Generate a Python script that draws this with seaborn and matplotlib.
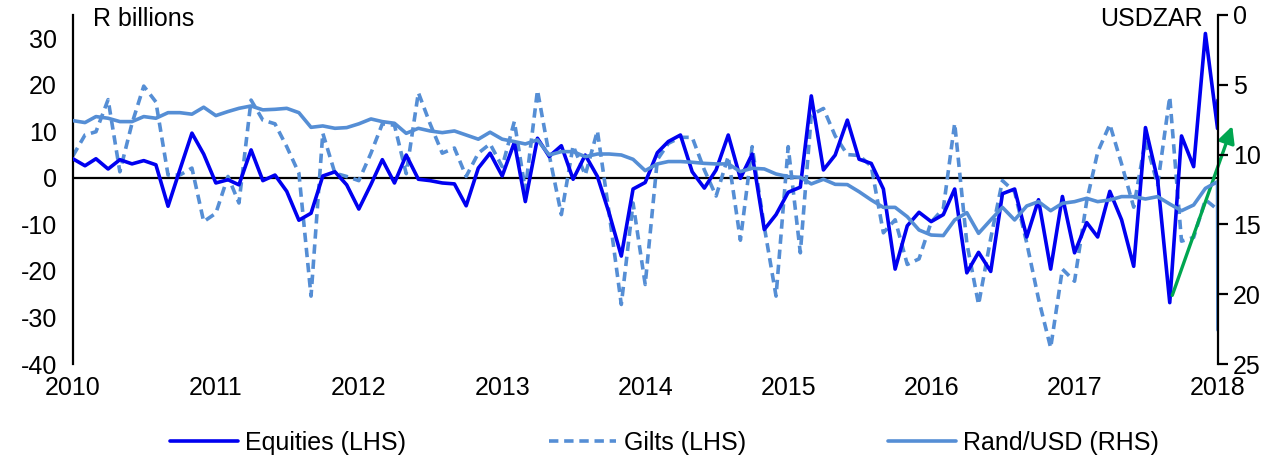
import numpy as np
import pandas as pd
import matplotlib
matplotlib.use('Agg')
import matplotlib.pyplot as plt
import matplotlib.dates as mdates
import seaborn as sns

# Monthly flows, Jan 2010 - Jan 2018 (plus one intra-month point at the end)
dates = list(pd.date_range('2010-01-01', '2018-01-01', freq='MS')) + [pd.Timestamp('2018-01-02')]

equities = [4.1, 2.6, 4.1, 1.9, 3.9, 3.0, 3.7, 2.8, -6.1, 1.7,
            9.6, 5.1, -1.1, -0.4, -1.5, 6.0, -0.6, 0.6, -2.9, -9.1,
            -7.6, 0.4, 1.3, -1.5, -6.7, -1.4, 3.9, -1.1, 4.9, -0.3,
            -0.6, -1.1, -1.3, -6.0, 2.1, 5.3, 0.4, 7.6, -5.1, 8.5,
            4.6, 6.9, -0.3, 4.9, 0.3, -7.6, -16.8, -2.4, -1.0, 5.4,
            7.8, 9.2, 1.3, -2.2, 1.7, 9.2, -0.1, 5.1, -11.1, -7.9,
            -3.1, -2.0, 17.6, 1.7, 4.9, 12.4, 4.0, 3.1, -2.4, -19.6,
            -10.3, -7.4, -9.4, -7.9, -2.4, -20.4, -16.0, -20.1, -3.4, -2.4,
            -12.7, -4.7, -19.6, -4.0, -16.1, -9.6, -12.7, -2.9, -9.0, -19.0,
            10.8, -0.4, -26.8, 9.0, 2.4, 31.0, 10.6, 16.7]

gilts = [4.7, 9.2, 9.9, 16.8, 1.3, 11.7, 19.7, 16.3, 0.6, 0.6,
         2.1, -9.4, -7.6, 0.3, -5.4, 16.7, 12.4, 11.6, 6.7, 1.0,
         -25.4, 9.6, 1.0, 0.3, -0.6, 5.3, 11.6, 11.3, 0.9, 18.3,
         11.6, 5.3, 6.4, 0.3, 5.3, 7.3, 2.4, 12.1, -2.6, 18.8,
         4.9, -7.9, 6.9, 0.6, 10.1, -7.6, -27.2, -5.4, -22.9, 3.9,
         7.4, 8.7, 8.7, 1.7, -3.9, 4.6, -13.4, 6.7, -10.5, -25.4,
         6.7, -16.1, 13.5, 14.9, 9.0, 5.0, 4.8, 2.5, -11.8, -9.0,
         -18.6, -17.4, -9.5, -6.6, 11.7, -14.0, -27.2, -13.0, -0.6, -3.0,
         -14.0, -26.0, -36.5, -19.6, -22.2, -5.0, 5.5, 11.5, 3.0, -6.3,
         8.1, -1.5, 17.4, -13.6, -12.8, -4.7, -6.8, -6.8]

rand_usd = [7.57, 7.71, 7.28, 7.40, 7.64, 7.64, 7.28, 7.40, 7.00, 7.00,
            7.11, 6.61, 7.21, 6.92, 6.69, 6.52, 6.80, 6.76, 6.69, 7.00,
            8.05, 7.95, 8.12, 8.07, 7.80, 7.45, 7.64, 7.76, 8.48, 8.12,
            8.31, 8.43, 8.31, 8.60, 8.90, 8.40, 8.90, 9.07, 9.24, 8.95,
            10.03, 9.79, 9.79, 10.15, 9.96, 9.96, 10.03, 10.34, 11.15, 10.67,
            10.50, 10.50, 10.55, 10.63, 10.67, 10.67, 11.22, 10.98, 11.03, 11.39,
            11.58, 11.63, 12.10, 11.77, 12.13, 12.15, 12.66, 13.25, 13.78, 13.78,
            14.45, 15.40, 15.76, 15.80, 14.68, 14.16, 15.64, 14.68, 13.78, 14.68,
            13.68, 13.37, 14.02, 13.49, 13.37, 13.13, 13.37, 13.25, 13.01, 13.01,
            13.18, 13.01, 13.54, 14.02, 13.61, 12.42, 11.94, 22.56]

years = list(range(2010, 2019))
labels = ['Equities (LHS)', 'Gilts (LHS)', 'Rand/USD (RHS)']

dark_blue = '#0000F0'
light_blue = '#558ED5'

sns.set_style('white')
plt.rcParams['font.family'] = ['Liberation Sans', 'DejaVu Sans']
plt.rcParams['font.size'] = 18
plt.rcParams['text.color'] = 'black'
plt.rcParams['xtick.color'] = 'black'
plt.rcParams['ytick.color'] = 'black'
plt.rcParams['axes.unicode_minus'] = False

fig, ax = plt.subplots(figsize=(12.78, 4.65), dpi=100)
fig.subplots_adjust(left=0.057, right=0.953, top=0.968, bottom=0.217)

df = pd.DataFrame({'date': dates, 'equities': equities, 'gilts': gilts, 'rand': rand_usd})

ax.axhline(0, color='black', lw=1.6, zorder=1)
sns.lineplot(data=df, x='date', y='gilts', ax=ax, color=light_blue, lw=2.6,
             linestyle=(0, (2.6, 1.6)), estimator=None, sort=False, label=labels[1], zorder=2)
sns.lineplot(data=df, x='date', y='equities', ax=ax, color=dark_blue, lw=2.6,
             estimator=None, sort=False, label=labels[0], zorder=3)

ax2 = ax.twinx()
sns.lineplot(data=df, x='date', y='rand', ax=ax2, color=light_blue, lw=2.6,
             estimator=None, sort=False, label=labels[2])

ax.set_ylim(-40, 35)
ax.set_yticks(range(-40, 31, 10))
ax2.set_ylim(25, 0)
ax2.set_yticks(range(0, 26, 5))

ax.set_xlim(pd.Timestamp('2010-01-01'), pd.Timestamp('2018-01-02'))
ax.set_xticks([pd.Timestamp(f'{y}-01-01') for y in years])
ax.xaxis.set_major_formatter(mdates.DateFormatter('%Y'))
ax.set_xlabel('')
ax.set_ylabel('')
ax2.set_ylabel('')

for a in (ax, ax2):
    for s in ('top', 'bottom', 'left', 'right'):
        a.spines[s].set_visible(False)
ax.spines['left'].set_visible(True)
ax.spines['left'].set_color('black')
ax.spines['left'].set_linewidth(1.6)
ax2.spines['right'].set_visible(True)
ax2.spines['right'].set_color('black')
ax2.spines['right'].set_linewidth(1.6)

ax.tick_params(axis='y', left=False, pad=8)
ax.tick_params(axis='x', bottom=False, pad=5)
ax2.tick_params(axis='y', right=True, direction='out', length=7, width=1.6,
                color='black', pad=4)

# green arrow showing the recent move
ax.annotate('', xy=(pd.Timestamp('2018-02-10'), 11.7), xytext=(pd.Timestamp('2017-09-05'), -25.8),
            arrowprops=dict(arrowstyle='-|>', color='#00A650', lw=2.4, mutation_scale=25),
            annotation_clip=False, zorder=6)

fig.text(0.073, 0.985, 'R billions', ha='left', va='top')
fig.text(0.941, 0.985, 'USDZAR', ha='right', va='top')

h1, l1 = ax.get_legend_handles_labels()
h2, l2 = ax2.get_legend_handles_labels()
ax.get_legend().remove()
ax2.get_legend().remove()
hmap = dict(zip(l1 + l2, h1 + h2))
fig.legend([hmap[l] for l in labels], labels, loc='center', bbox_to_anchor=(0.52, 0.047),
           ncol=3, frameon=False, handlelength=2.7, columnspacing=5.7, handletextpad=0.3)

fig.savefig('out.png', dpi=100)
